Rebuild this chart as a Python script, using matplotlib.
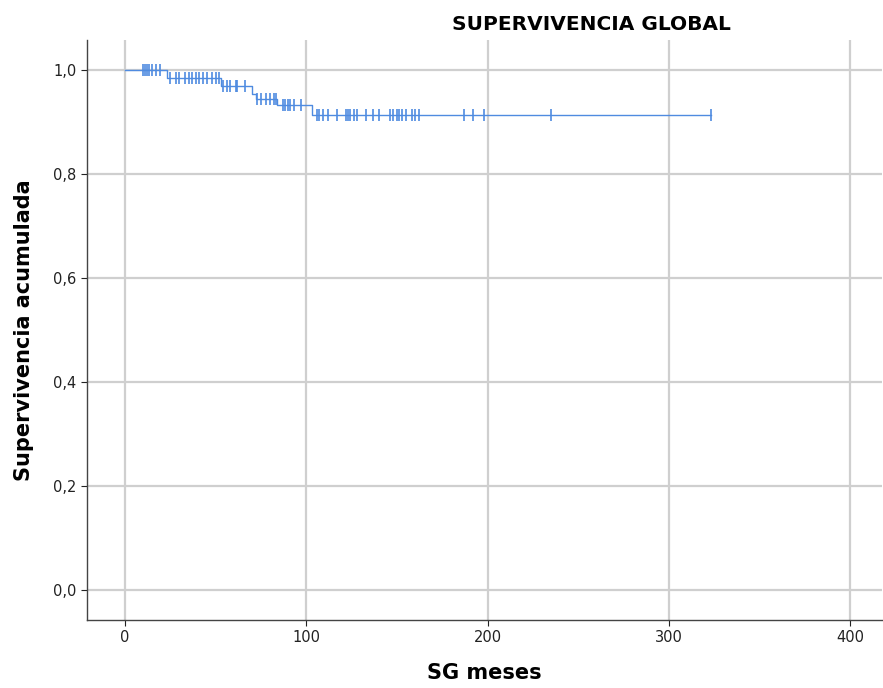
import numpy as np
import matplotlib
matplotlib.use("Agg")
import matplotlib.pyplot as plt

# Kaplan-Meier step data (months, cumulative survival)
event_times = [0, 23, 53, 70, 72, 84, 103]
survival = [1.0, 0.985, 0.970, 0.955, 0.945, 0.933, 0.913]
end_time = 323

censor_times = [10, 11, 12, 13, 15, 17, 19,
                25, 28, 30, 33, 35, 37, 39, 41, 43, 45, 48, 50, 52,
                54, 56, 58, 61, 62, 66,
                73, 75, 78, 80, 82, 83,
                87, 88, 90, 91, 93, 97,
                106, 107, 109, 112, 117, 122, 123, 124, 126, 128, 133, 137, 140,
                146, 148, 150, 151, 153, 155, 158, 160, 162,
                187, 192, 198, 235, 323]

x_ticks = [0, 100, 200, 300, 400]
y_ticks = [0.0, 0.2, 0.4, 0.6, 0.8, 1.0]
y_ticklabels = ["0,0", "0,2", "0,4", "0,6", "0,8", "1,0"]

color = "#4F8BE0"

fig = plt.figure(figsize=(8.83, 6.88), dpi=100)
ax = fig.add_axes([87/883, 68/688, (882-87)/883, (620-40)/688])

st_x = list(event_times) + [end_time]
st_y = list(survival) + [survival[-1]]
ax.step(st_x, st_y, where="post", color=color, lw=1.0, zorder=3)

idx = np.searchsorted(event_times, censor_times, side="right") - 1
cy = np.array(survival)[idx]
ax.plot(censor_times, cy, linestyle="none", marker="|", markersize=8,
        markeredgewidth=1.2, color=color, zorder=4)

ax.set_xlim(-21, 417.5)
ax.set_ylim(-0.058, 1.058)
ax.set_xticks(x_ticks)
ax.set_yticks(y_ticks)
ax.set_yticklabels(y_ticklabels)
ax.grid(True, color="#CFCFCF", lw=1.6, zorder=0)
ax.set_axisbelow(True)
for s in ["top", "right"]:
    ax.spines[s].set_visible(False)
for s in ["left", "bottom"]:
    ax.spines[s].set_color("#444444")
    ax.spines[s].set_linewidth(1.0)
ax.tick_params(axis="both", labelsize=10.5, colors="#222222", length=4, width=0.8)

ax.set_xlabel("SG meses", fontsize=15, fontweight="bold", labelpad=13)
ax.set_ylabel("Supervivencia acumulada", fontsize=15, fontweight="bold", labelpad=14)
fig.text(591/883, 1 - 25/688, "SUPERVIVENCIA GLOBAL", fontsize=14.5,
         fontweight="bold", ha="center", va="center")

fig.savefig("out.png", dpi=100)
